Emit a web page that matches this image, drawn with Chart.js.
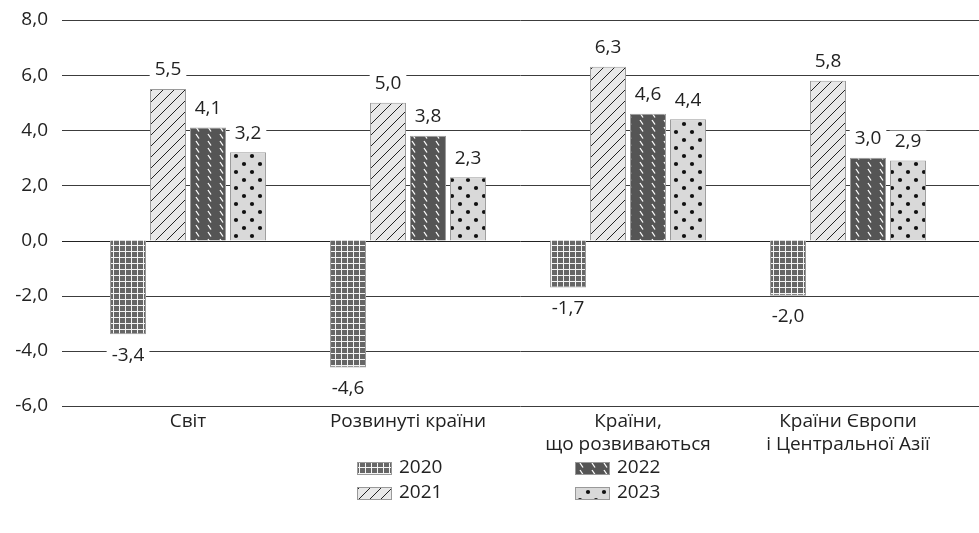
<!DOCTYPE html>
<html>
<head>
<meta charset="utf-8">
<script src="https://cdn.jsdelivr.net/npm/chart.js@4"></script>
<style>
  html, body { margin: 0; padding: 0; background: #fff; }
  #wrap { width: 979px; height: 533px; }
</style>
</head>
<body>
<div id="wrap"><canvas id="growthChart" width="979" height="533"></canvas></div>
<script>
const categories = [['Світ'], ['Розвинуті країни'], ['Країни,', 'що розвиваються'], ['Країни Європи', 'і Центральної Азії']];
const years = ['2020', '2021', '2022', '2023'];
const values2020 = [-3.4, -4.6, -1.7, -2.0];
const values2021 = [5.5, 5.0, 6.3, 5.8];
const values2022 = [4.1, 3.8, 4.6, 3.0];
const values2023 = [3.2, 2.3, 4.4, 2.9];

const FONT = '"Open Sans", sans-serif';
const FS = 19;
const fmt = (v) => v.toFixed(1).replace('.', ',');

function makePattern(w, h, draw) {
    const c = document.createElement('canvas');
    c.width = w; c.height = h;
    const g = c.getContext('2d');
    draw(g, w, h);
    return g.createPattern(c, 'repeat');
}

// 2020 - dark grey with white grid
const gridPat = makePattern(6, 6, (g, w, h) => {
    g.fillStyle = '#666'; g.fillRect(0, 0, w, h);
    g.fillStyle = '#f4f4f4';
    g.fillRect(w - 1, 0, 1, h);
    g.fillRect(0, h - 1, w, 1);
});
// 2021 - light grey with diagonal lines
const hatchPat = makePattern(11, 11, (g, w, h) => {
    g.fillStyle = '#e8e8e8'; g.fillRect(0, 0, w, h);
    g.strokeStyle = '#222'; g.lineWidth = 1;
    g.beginPath();
    g.moveTo(-1, h + 1); g.lineTo(w + 1, -1);
    g.moveTo(-2, 1); g.lineTo(1, -2);
    g.moveTo(w - 1, h + 2); g.lineTo(w + 2, h - 1);
    g.stroke();
});
// 2022 - dark grey with short white dashes
const dashPat = makePattern(12, 7, (g, w, h) => {
    g.fillStyle = '#555'; g.fillRect(0, 0, w, h);
    g.strokeStyle = '#fff'; g.lineWidth = 1.3;
    g.beginPath();
    g.moveTo(4, 1); g.lineTo(7, 5.5);
    g.stroke();
});
// 2023 - light grey with dots
const dotPat = makePattern(16, 16, (g, w, h) => {
    g.fillStyle = '#d9d9d9'; g.fillRect(0, 0, w, h);
    g.fillStyle = '#111';
    [[4, 4], [12, 12]].forEach(([x, y]) => {
        g.beginPath(); g.arc(x, y, 2.1, 0, Math.PI * 2); g.fill();
    });
});

const patterns = [gridPat, hatchPat, dashPat, dotPat];
const seriesValues = [values2020, values2021, values2022, values2023];

const gridLines = {
    id: 'gridLines',
    beforeDatasetsDraw(chart) {
        const { ctx } = chart;
        const y = chart.scales.y;
        ctx.save();
        y.ticks.forEach((t) => {
            const py = Math.round(y.getPixelForValue(t.value)) + 0.5;
            ctx.strokeStyle = t.value === 0 ? '#222' : '#3c3c3c';
            ctx.lineWidth = 1;
            ctx.beginPath();
            ctx.moveTo(62, py);
            ctx.lineTo(chart.width, py);
            ctx.stroke();
        });
        ctx.restore();
    },
};

const valueLabels = {
    id: 'valueLabels',
    afterDatasetsDraw(chart) {
        const { ctx } = chart;
        ctx.save();
        ctx.font = FS + 'px ' + FONT;
        ctx.textAlign = 'center';
        ctx.textBaseline = 'middle';
        chart.data.datasets.forEach((ds, i) => {
            chart.getDatasetMeta(i).data.forEach((bar, j) => {
                const v = ds.data[j];
                const text = fmt(v);
                const ty = v >= 0 ? bar.y - 19 : bar.y + 21;
                const tw = ctx.measureText(text).width + 10;
                ctx.fillStyle = '#fff';
                ctx.fillRect(bar.x - tw / 2, ty - 11, tw, 22);
                ctx.fillStyle = '#222';
                ctx.fillText(text, bar.x, ty);
            });
        });
        ctx.restore();
    },
};

const legendPos = [[357, 468], [357, 493], [575, 468], [575, 493]];
const customLegend = {
    id: 'customLegend',
    afterDraw(chart) {
        const { ctx } = chart;
        ctx.save();
        ctx.font = FS + 'px ' + FONT;
        ctx.textBaseline = 'middle';
        chart.data.datasets.forEach((ds, i) => {
            const [x, y] = legendPos[i];
            ctx.fillStyle = ds.backgroundColor;
            ctx.fillRect(x, y - 6, 35, 13);
            ctx.strokeStyle = '#999';
            ctx.lineWidth = 1;
            ctx.strokeRect(x + 0.5, y - 5.5, 34, 12);
            ctx.fillStyle = '#222';
            ctx.fillText(ds.label, x + 42, y);
        });
        ctx.restore();
    },
};

const ctx = document.getElementById('growthChart').getContext('2d');
const chart = new Chart(ctx, {
    type: 'bar',
    data: {
        labels: categories,
        datasets: years.map((yr, i) => ({
            label: yr,
            data: seriesValues[i],
            backgroundColor: patterns[i],
            borderColor: '#9a9a9a',
            borderWidth: 1,
            barPercentage: 0.9,
            categoryPercentage: 0.727,
        })),
    },
    options: {
        responsive: false,
        animation: false,
        layout: { padding: { top: 20, right: 21, left: 0, bottom: 0 } },
        plugins: {
            legend: { display: false },
            tooltip: { enabled: false },
        },
        scales: {
            x: {
                grid: { display: false, drawTicks: false },
                border: { display: false },
                ticks: { color: '#222', font: { family: FONT, size: FS, lineHeight: 1.2 }, padding: 4, maxRotation: 0 },
                afterFit: (s) => { s.height = 127; s.paddingTop = 0; s.paddingBottom = 0; },
            },
            y: {
                min: -6,
                max: 8,
                grid: { display: false, drawTicks: false },
                border: { display: false },
                ticks: {
                    stepSize: 2,
                    color: '#222',
                    padding: 30,
                    font: { family: FONT, size: FS },
                    callback: (v) => fmt(v),
                },
                afterFit: (s) => { s.width = 78; s.paddingTop = 0; s.paddingBottom = 0; },
            },
        },
    },
    plugins: [gridLines, valueLabels, customLegend],
});
</script>
</body>
</html>
